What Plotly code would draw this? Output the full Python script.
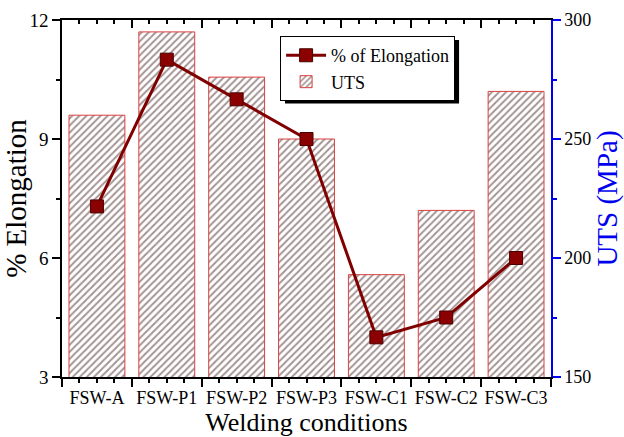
import plotly.graph_objects as go

categories = ["FSW-A", "FSW-P1", "FSW-P2", "FSW-P3", "FSW-C1", "FSW-C2", "FSW-C3"]
elongation = [7.3, 11.0, 10.0, 9.0, 4.0, 4.5, 6.0]
uts = [260, 295, 276, 250, 193, 220, 270]

xpos = list(range(len(categories)))
FONT = "Liberation Serif"

def f(size, color="black"):
    return dict(family=FONT, size=size, color=color)

fig = go.Figure()
fig.add_trace(go.Bar(
    x=xpos, y=uts, name="UTS", yaxis="y", width=0.8, base=0,
    marker=dict(color="white", line=dict(color="#d9403f", width=1),
                pattern=dict(shape="/", fgcolor="#4a2828", bgcolor="white", size=5, solidity=0.4)),
    legendrank=2,
))
fig.add_trace(go.Scatter(
    x=xpos, y=elongation, name="% of Elongation", yaxis="y2", mode="lines+markers",
    line=dict(color="#800000", width=3),
    marker=dict(symbol="square", size=13, color="#8b0000", line=dict(color="#4a0000", width=1)),
    legendrank=1,
))
fig.add_trace(go.Scatter(x=xpos, y=elongation, xaxis="x2", yaxis="y2", mode="none", showlegend=False, hoverinfo="skip"))
fig.add_trace(go.Scatter(x=xpos, y=elongation, xaxis="x3", yaxis="y2", mode="none", showlegend=False, hoverinfo="skip"))

xr = [-0.5, len(categories) - 0.5]
bounds = [i - 0.5 for i in range(len(categories) + 1)]

fig.update_layout(
    width=624, height=437,
    margin=dict(l=62, r=73, t=20, b=60),
    paper_bgcolor="white", plot_bgcolor="white",
    font=f(19),
    showlegend=True,
    legend=dict(x=0.446, y=0.955, xanchor="left", yanchor="top",
                bgcolor="white", bordercolor="black", borderwidth=1,
                font=f(18), tracegroupgap=0, itemwidth=40),
    shapes=[dict(type="rect", xref="paper", yref="paper", layer="below",
                 x0=0.456, x1=0.812, y0=0.766, y1=0.944,
                 fillcolor="black", line=dict(width=0))],
    xaxis=dict(range=xr, tickmode="array", tickvals=bounds, ticktext=[""] * len(bounds),
               ticks="outside", ticklen=8, tickwidth=1.5, tickcolor="black", automargin=False,
               showline=True, linecolor="black", linewidth=1.5, showgrid=False, zeroline=False,
               minor=dict(dtick=0.25, tick0=-0.5, ticks="outside", ticklen=4, tickwidth=1.5, tickcolor="black"),
               title=dict(text="Welding conditions", font=f(26), standoff=29)),
    xaxis2=dict(overlaying="x", range=xr, tickmode="array", tickvals=xpos, ticktext=categories,
                ticks="", showline=False, showgrid=False, zeroline=False, side="bottom", automargin=False,
                tickangle=0, tickfont=f(18), ticklabelstandoff=8),
    xaxis3=dict(overlaying="x", range=xr, side="top", tickmode="array", tickvals=bounds, automargin=False,
                ticktext=[""] * len(bounds), ticks="inside", ticklen=8, tickwidth=1.5, tickcolor="black",
                showline=True, linecolor="black", linewidth=1.5, showgrid=False, zeroline=False,
                minor=dict(dtick=0.25, tick0=-0.5, ticks="inside", ticklen=4, tickwidth=1.5, tickcolor="black")),
    yaxis=dict(range=[150, 300], side="right", dtick=50, tick0=150, automargin=False,
               ticks="outside", ticklen=8, tickwidth=1.5, tickcolor="#0000ee",
               showline=True, linecolor="#0000ee", linewidth=1.5, showgrid=False, zeroline=False,
               minor=dict(dtick=25, ticks="outside", ticklen=4, tickwidth=1.5, tickcolor="#0000ee"),
               tickfont=f(18),
               title=dict(text="UTS (MPa)", font=f(29, "#0000ee"), standoff=16)),
    yaxis2=dict(overlaying="y", side="left", range=[3, 12], dtick=3, tick0=3, automargin=False,
                ticks="outside", ticklen=8, tickwidth=1.5, tickcolor="black",
                showline=True, linecolor="black", linewidth=1.5, showgrid=False, zeroline=False,
                minor=dict(dtick=1.5, ticks="outside", ticklen=4, tickwidth=1.5, tickcolor="black"),
                tickfont=f(19),
                title=dict(text="% Elongation", font=f(29), standoff=10)),
)

fig.write_html("out.html")
